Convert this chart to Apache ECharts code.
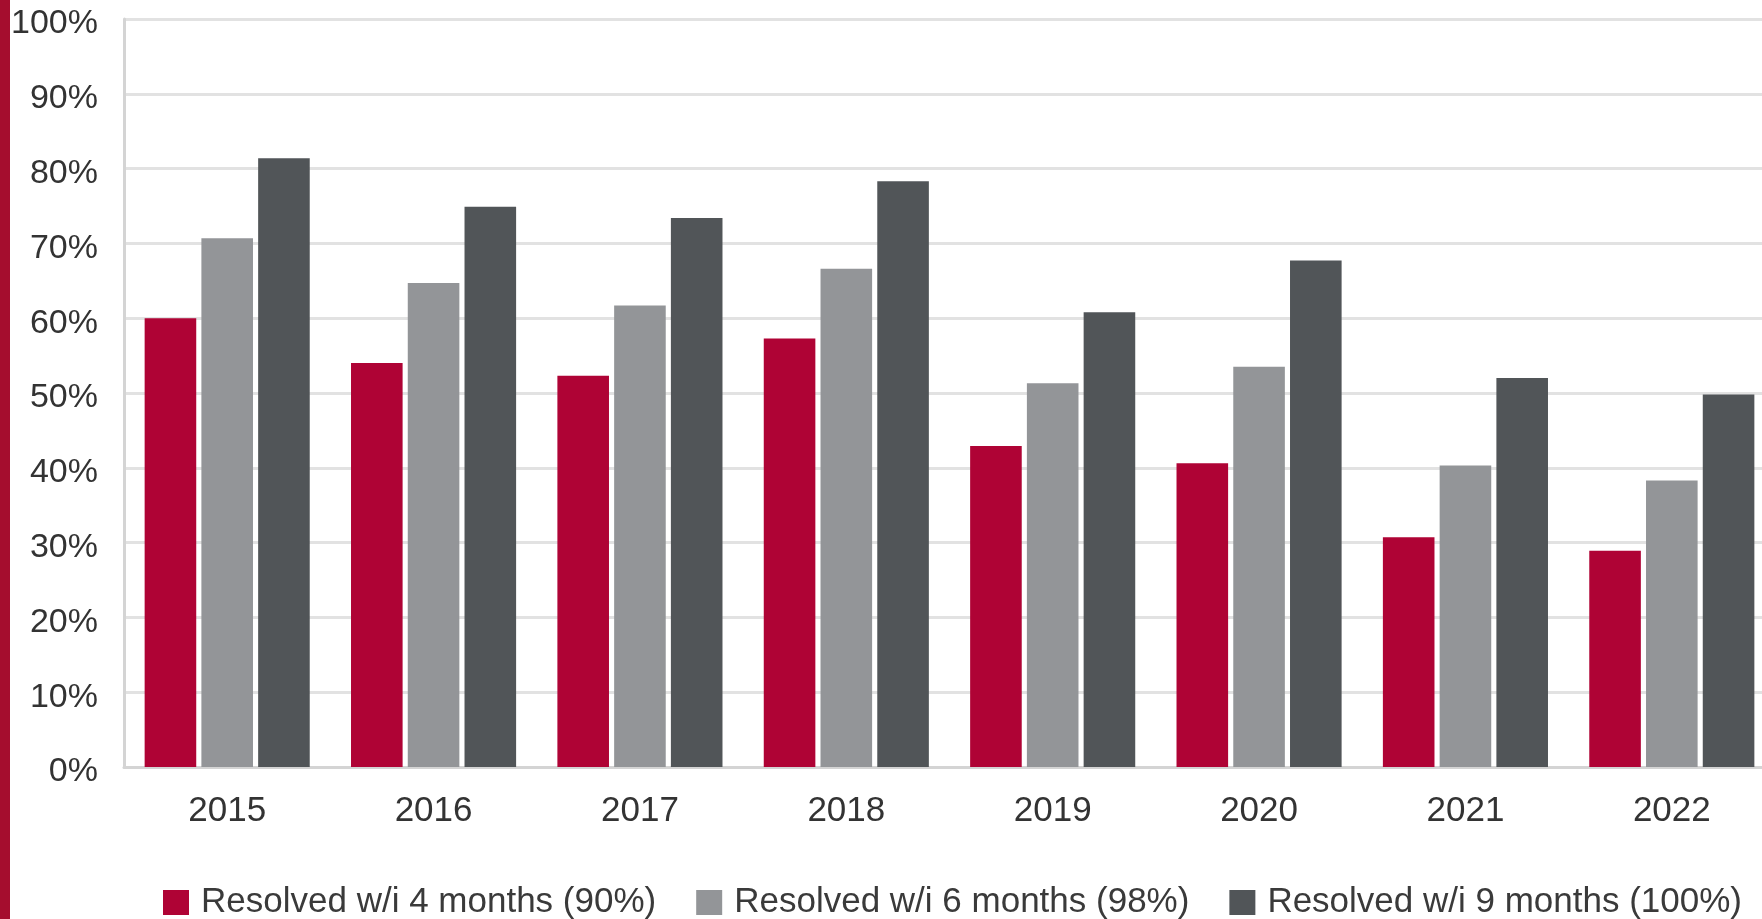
<!DOCTYPE html>
<html>
<head>
<meta charset="utf-8">
<script src="https://cdn.jsdelivr.net/npm/echarts@6/dist/echarts.min.js"></script>
<style>
  html, body { margin: 0; padding: 0; background: #fff; overflow: hidden; }
  #chart { width: 1776px; height: 919px; }
</style>
</head>
<body>
<div id="chart"></div>
<script>
const years = ["2015", "2016", "2017", "2018", "2019", "2020", "2021", "2022"]
const seriesNames = [
    "Resolved w/i 4 months (90%)",
    "Resolved w/i 6 months (98%)",
    "Resolved w/i 9 months (100%)"
]
const within4 = [60.0, 54.0, 52.3, 57.3, 42.9, 40.6, 30.7, 28.9]
const within6 = [70.7, 64.7, 61.7, 66.6, 51.3, 53.5, 40.3, 38.3]
const within9 = [81.4, 74.9, 73.4, 78.3, 60.8, 67.7, 52.0, 49.8]
const colors = ["#AF0335", "#939598", "#515558"]

const chart = echarts.init(document.getElementById("chart"))
const textFont = "'Liberation Sans', Arial, sans-serif"

const option = {
    animation: false,
    backgroundColor: "#fff",
    graphic: [{
        type: "rect",
        left: 0,
        top: 0,
        shape: { width: 10, height: 919 },
        style: { fill: "#A50D2E" }
    }],
    grid: {
        left: 124,
        right: 1,
        top: 19,
        bottom: 152
    },
    legend: {
        top: 880,
        left: 158,
        itemWidth: 26,
        itemHeight: 25,
        itemGap: 40,
        icon: "rect",
        textStyle: {
            fontFamily: textFont,
            fontSize: 35,
            color: "#3a3a3a",
            padding: [0, 0, 0, 7]
        },
        data: seriesNames
    },
    xAxis: {
        type: "category",
        data: years,
        axisLine: { show: true, lineStyle: { color: "#d4d4d4", width: 3 } },
        axisTick: { show: false },
        axisLabel: {
            margin: 27,
            fontFamily: textFont,
            fontSize: 35,
            color: "#333"
        }
    },
    yAxis: {
        type: "value",
        min: 0,
        max: 100,
        interval: 10,
        axisLine: { show: true, lineStyle: { color: "#d4d4d4", width: 3 } },
        axisTick: { show: false },
        splitLine: { show: true, lineStyle: { color: "#e2e2e2", width: 3 } },
        axisLabel: {
            margin: 26,
            formatter: "{a|{value}%}",
            rich: {
                a: {
                    fontFamily: textFont,
                    fontSize: 34,
                    color: "#333",
                    padding: [10, 0, 0, 0]
                }
            }
        }
    },
    series: [
        { name: seriesNames[0], type: "bar", data: within4, barGap: "10%", barCategoryGap: "20%", itemStyle: { color: colors[0] } },
        { name: seriesNames[1], type: "bar", data: within6, itemStyle: { color: colors[1] } },
        { name: seriesNames[2], type: "bar", data: within9, itemStyle: { color: colors[2] } }
    ]
}
chart.setOption(option, true)
</script>
</body>
</html>
